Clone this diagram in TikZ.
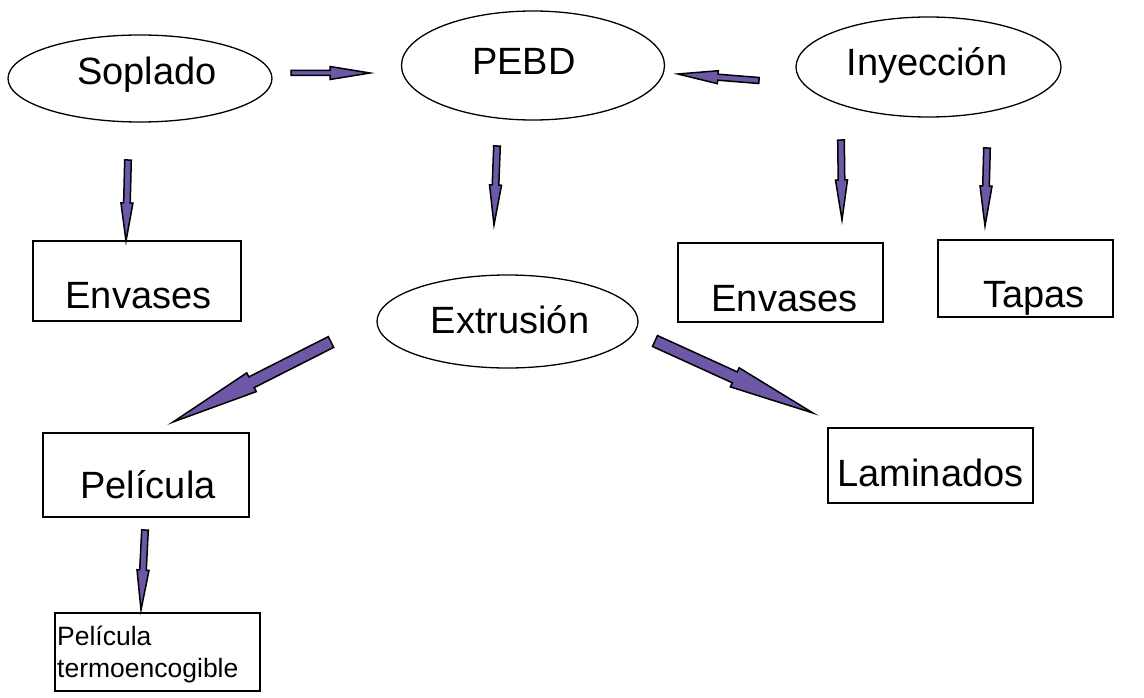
\documentclass[tikz,border=0pt]{standalone}
\usepackage{fontspec}
\setmainfont{Liberation Sans}
\usetikzlibrary{shapes.geometric,calc}
\definecolor{arrowfill}{RGB}{108,88,166}
\tikzset{
  proc/.style={ellipse, draw=black, line width=1.3pt, inner sep=0pt},
  item/.style={rectangle, draw=black, line width=1.6pt, inner sep=0pt},
  lbl/.style={anchor=base, inner sep=0pt, font=\fontsize{38}{44}\selectfont},
  small/.style={anchor=base west, inner sep=0pt, font=\fontsize{26.5}{31}\selectfont},
  barrow/.style={fill=arrowfill, draw=black, line width=1.5pt, line join=miter, miter limit=10},
}
% block arrow: from, to, shaft half-width, head half-width, head length
\newcommand\blockarrow[5]{%
  \coordinate (hb) at ($(#2)!#5!(#1)$);
  \filldraw[barrow]
    ($(#1)!#3!90:(#2)$) -- ($(hb)!#3!-90:(#1)$) -- ($(hb)!#4!-90:(#1)$) -- (#2)
    -- ($(hb)!#4!90:(#1)$) -- ($(hb)!#3!90:(#1)$) -- ($(#1)!#3!-90:(#2)$) -- cycle;
}
\begin{document}
\begin{tikzpicture}[x=1pt,y=-1pt]
\useasboundingbox (0,0) rectangle (1144,698);

% processes
\node[proc, minimum width=264, minimum height=87] (soplado) at (140,78.5) {};
\node[proc, minimum width=263, minimum height=109] (pebd) at (533,65.5) {};
\node[proc, minimum width=265, minimum height=100] (inyeccion) at (928.5,67) {};
\node[proc, minimum width=261, minimum height=93] (extrusion) at (507.5,321.5) {};

\node[lbl] (soplado-t) at (147,85) {Soplado};
\node[lbl] (pebd-t) at (524,75) {PEBD};
\node[lbl] (inyeccion-t) at (927,76) {Inyección};
\node[lbl] (extrusion-t) at (510,333) {Extrusión};

% products
\node[item, minimum width=208, minimum height=80] (envasesA) at (137,281) {};
\node[item, minimum width=205, minimum height=79] (envasesB) at (780.5,282.5) {};
\node[item, minimum width=175, minimum height=77] (tapas) at (1025.5,278.5) {};
\node[item, minimum width=206, minimum height=84] (pelicula) at (146,475) {};
\node[item, minimum width=205, minimum height=75] (laminados) at (930.5,465.5) {};
\node[item, minimum width=205, minimum height=78] (termo) at (157.5,652) {};

\node[lbl] (envasesA-t) at (138.5,308) {Envases};
\node[lbl] (envasesB-t) at (784.5,311) {Envases};
\node[lbl] (tapas-t) at (1034,307) {Tapas};
\node[lbl] (pelicula-t) at (148,498) {Película};
\node[lbl] (laminados-t) at (930.5,486.5) {Laminados};
\node[small] (termo-t1) at (57,645) {Película};
\node[small] (termo-t2) at (57,677) {termoencogible};

% arrow ends
\coordinate (s1) at (291,73);   \coordinate (e1) at (370,73);
\coordinate (s2) at (759,80.5); \coordinate (e2) at (678,74);
\coordinate (s3) at (128,160);  \coordinate (e3) at (126,241);
\coordinate (s4) at (497,146);  \coordinate (e4) at (494,225);
\coordinate (s5) at (841,140);  \coordinate (e5) at (842,220);
\coordinate (s6) at (987,148);  \coordinate (e6) at (985,226);
\coordinate (s7) at (331,342);  \coordinate (e7) at (173,422);
\coordinate (s8) at (655,341);  \coordinate (e8) at (813,413);
\coordinate (s9) at (145,530);  \coordinate (e9) at (141,610);

\blockarrow{s1}{e1}{2.5pt}{6.5pt}{40pt}
\blockarrow{s2}{e2}{3pt}{6.5pt}{40pt}
\blockarrow{s3}{e3}{3.3pt}{6pt}{38pt}
\blockarrow{s4}{e4}{3.3pt}{6pt}{40pt}
\blockarrow{s5}{e5}{3.3pt}{6pt}{40pt}
\blockarrow{s6}{e6}{3.3pt}{6pt}{40pt}
\blockarrow{s7}{e7}{6pt}{10.5pt}{88pt}
\blockarrow{s8}{e8}{6pt}{10.5pt}{86pt}
\blockarrow{s9}{e9}{3.3pt}{6pt}{40pt}
\end{tikzpicture}
\end{document}
